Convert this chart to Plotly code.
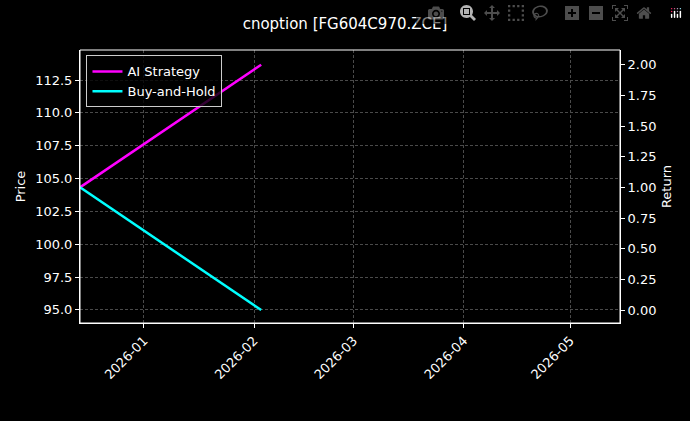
import plotly.graph_objects as go

dates = ["2025-12-14", "2026-02-03"]
ai_strategy = [1.0, 2.0]
buy_hold = [1.0, 0.0]
price_ticks = [95.0, 97.5, 100.0, 102.5, 105.0, 107.5, 110.0, 112.5]
return_ticks = [0.0, 0.25, 0.5, 0.75, 1.0, 1.25, 1.5, 1.75, 2.0]
x_ticks = ["2026-01-01", "2026-02-01", "2026-03-01", "2026-04-01", "2026-05-01"]
x_labels = ["2026-01", "2026-02", "2026-03", "2026-04", "2026-05"]

fig = go.Figure()
fig.add_trace(go.Scatter(x=dates, y=ai_strategy, mode="lines", name="AI Strategy",
                         line=dict(color="#ff00ff", width=2.5), yaxis="y2"))
fig.add_trace(go.Scatter(x=dates, y=buy_hold, mode="lines", name="Buy-and-Hold",
                         line=dict(color="#00ffff", width=2.5), yaxis="y2"))
fig.add_trace(go.Scatter(x=[dates[0]], y=[104.3], mode="markers", marker=dict(opacity=0),
                         showlegend=False, hoverinfo="skip", yaxis="y"))

ax = dict(showline=True, linecolor="white", mirror=False, ticks="outside", tickcolor="white",
          ticklen=4, tickfont=dict(color="white", size=13), zeroline=False)
grid = dict(showgrid=True, gridcolor="#4a4a4a", griddash="3px,2px", gridwidth=0.6)
fig.update_layout(
    width=690, height=421, paper_bgcolor="black", plot_bgcolor="black",
    font=dict(family="DejaVu Sans", color="white", size=13),
    title=dict(text="cnoption [FG604C970.ZCE]", x=0.5, xanchor="center", y=0.955, font=dict(size=15)),
    margin=dict(l=80, r=70, t=50, b=98),
    xaxis=dict(**ax, **grid, type="date", range=["2025-12-14", "2026-05-15"], tickvals=x_ticks,
               ticktext=x_labels, tickangle=-45),
    yaxis=dict(**ax, **grid, range=[94.0, 114.79], tickvals=price_ticks,
               ticktext=[f"{v:.1f}" for v in price_ticks],
               title=dict(text="Price", font=dict(color="white", size=13), standoff=6)),
    yaxis2=dict(**ax, overlaying="y", side="right", range=[-0.106, 2.12], tickvals=return_ticks,
                ticktext=[f"{v:.2f}" for v in return_ticks], showgrid=False,
                title=dict(text="Return", font=dict(color="white", size=13), standoff=6)),
    legend=dict(x=0.012, y=0.98, xanchor="left", yanchor="top", bgcolor="rgba(0,0,0,0.8)",
                bordercolor="#ccc", borderwidth=1, font=dict(color="white", size=13)),
)
fig.add_shape(type="rect", xref="paper", yref="paper", x0=0, y0=0, x1=1, y1=1,
              line=dict(color="white", width=1))
fig.write_html("out.html", post_script="document.body.style.margin='0';document.body.style.background='black';")
